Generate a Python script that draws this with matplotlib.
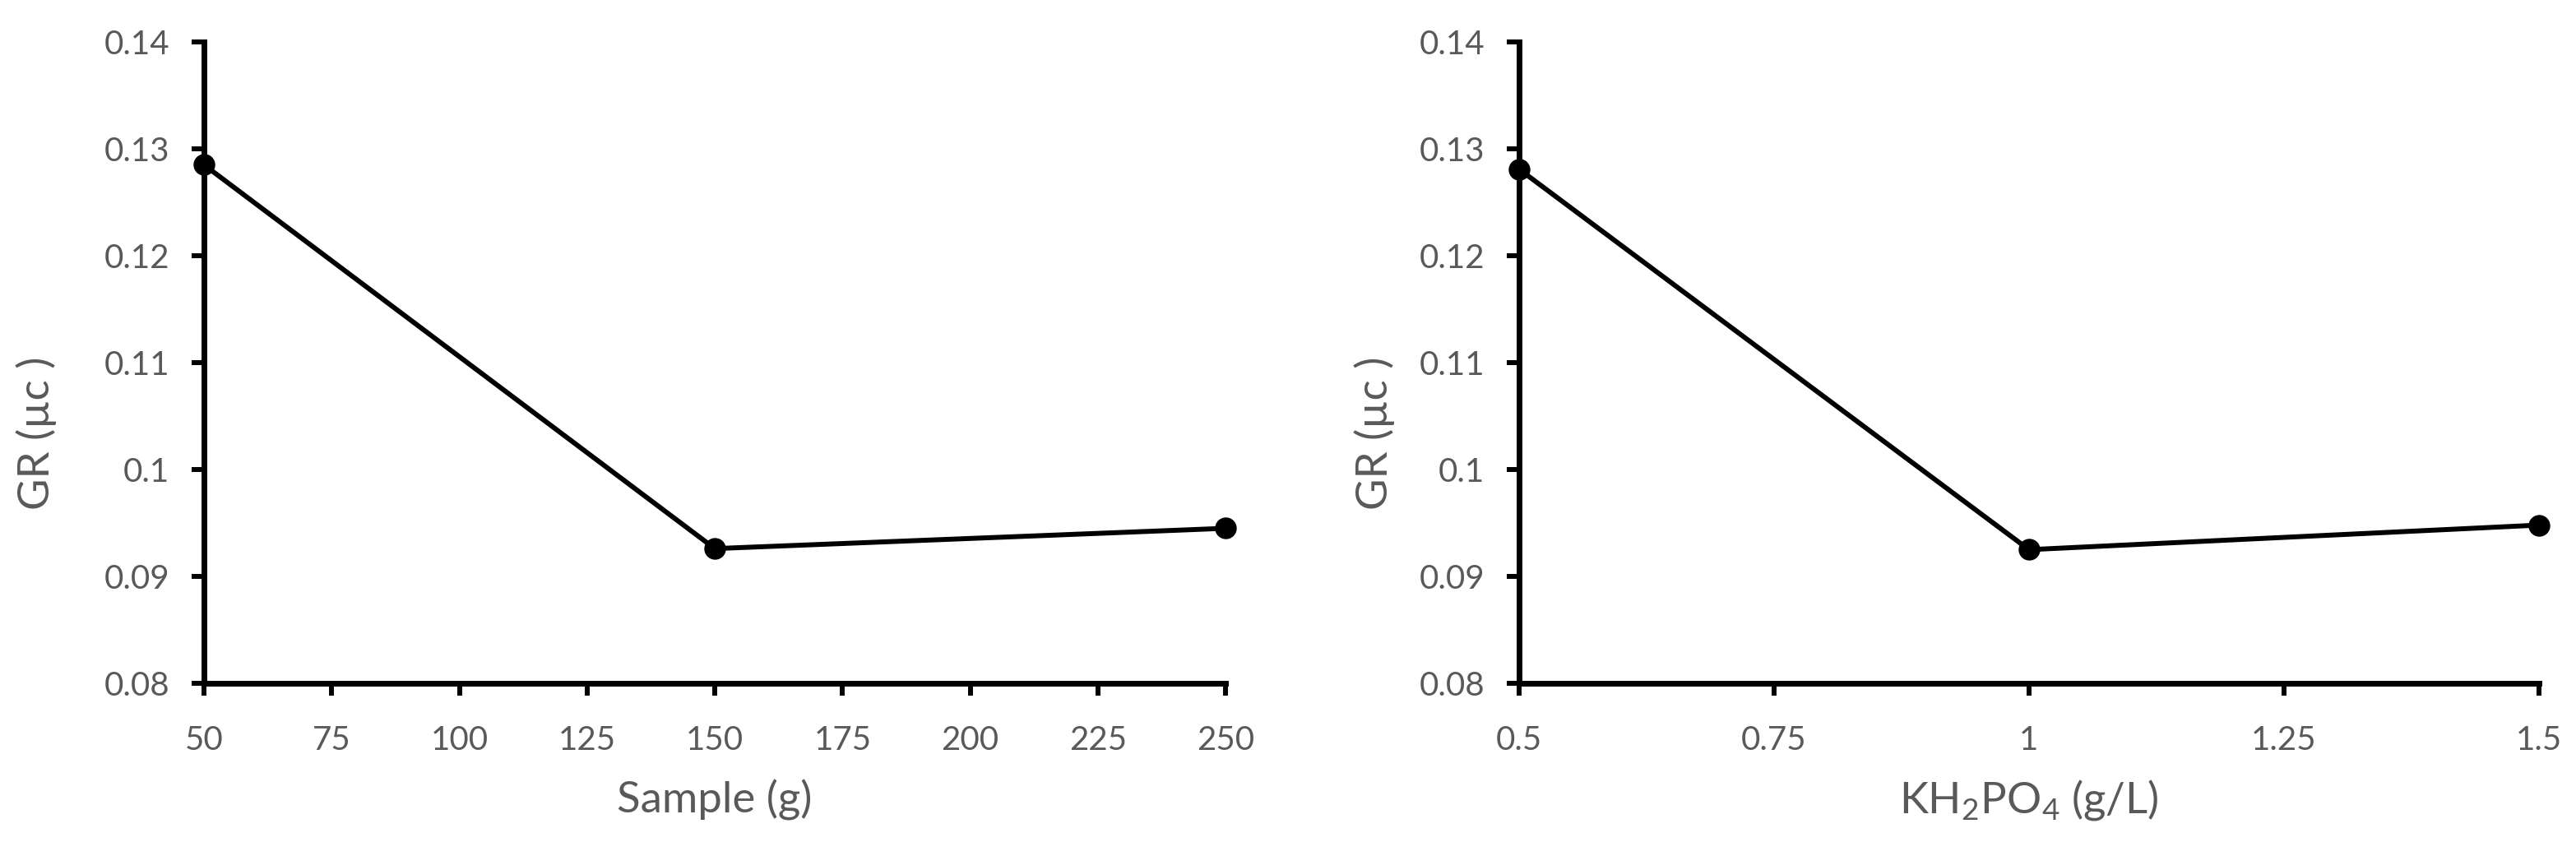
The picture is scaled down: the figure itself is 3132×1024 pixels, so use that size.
import matplotlib
matplotlib.use("Agg")
import matplotlib.pyplot as plt
from matplotlib.ticker import FuncFormatter

plt.rcParams["font.family"] = ["Lato", "DejaVu Sans"]
plt.rcParams["mathtext.fontset"] = "custom"
plt.rcParams["mathtext.rm"] = "Lato"

# ---------------------------------------------------------------------------
# data
# ---------------------------------------------------------------------------
sample_g = [50, 150, 250]
gr_sample = [0.1285, 0.0926, 0.0945]

kh2po4 = [0.5, 1.0, 1.5]
gr_kh2po4 = [0.1281, 0.0925, 0.0948]

y_ticks = [0.08, 0.09, 0.10, 0.11, 0.12, 0.13, 0.14]
x_ticks_sample = [50, 75, 100, 125, 150, 175, 200, 225, 250]
x_ticks_kh2po4 = [0.5, 0.75, 1.0, 1.25, 1.5]

TEXT = "#595959"
fmt = FuncFormatter(lambda v, _: f"{v:g}")

fig = plt.figure(figsize=(31.32, 10.24), dpi=100)
ax1 = fig.add_axes([0.0792, 0.1885, 0.3966, 0.7617])
ax2 = fig.add_axes([0.5897, 0.1885, 0.3959, 0.7617])

panels = [
    (ax1, sample_g, gr_sample, x_ticks_sample, "Sample (g)", -0.164),
    (ax2, kh2po4, gr_kh2po4, x_ticks_kh2po4,
     r"KH$_\mathregular{2}$PO$_\mathregular{4}$ (g/L)", -0.142),
]

for ax, xs, ys, xt, xlabel, ylab_x in panels:
    ax.plot(xs, ys, color="black", lw=4.3, marker="o", ms=19, mew=0,
            clip_on=False, zorder=5)
    ax.set_xlim(xt[0], xt[-1])
    ax.set_ylim(y_ticks[0], y_ticks[-1])
    ax.set_xticks(xt)
    ax.set_yticks(y_ticks)
    ax.xaxis.set_major_formatter(fmt)
    ax.yaxis.set_major_formatter(fmt)

    for side in ("top", "right"):
        ax.spines[side].set_visible(False)
    for side in ("left", "bottom"):
        ax.spines[side].set_linewidth(5)
        ax.spines[side].set_capstyle("projecting")

    ax.tick_params(axis="x", direction="out", length=11, width=4.3,
                   pad=26, labelsize=29, labelcolor=TEXT)
    ax.tick_params(axis="y", direction="out", length=11, width=4.3,
                   pad=19, labelsize=29, labelcolor=TEXT)

    ax.set_xlabel(xlabel, fontsize=38, color=TEXT)
    ax.xaxis.set_label_coords(0.5, -0.182)
    ax.set_ylabel("GR (\u00b5c )", fontsize=38, color=TEXT)
    ax.yaxis.set_label_coords(ylab_x, 0.39)
    ax.xaxis.label.set_va("center")
    ax.yaxis.label.set_va("center")

fig.savefig("out.png", dpi=100)
